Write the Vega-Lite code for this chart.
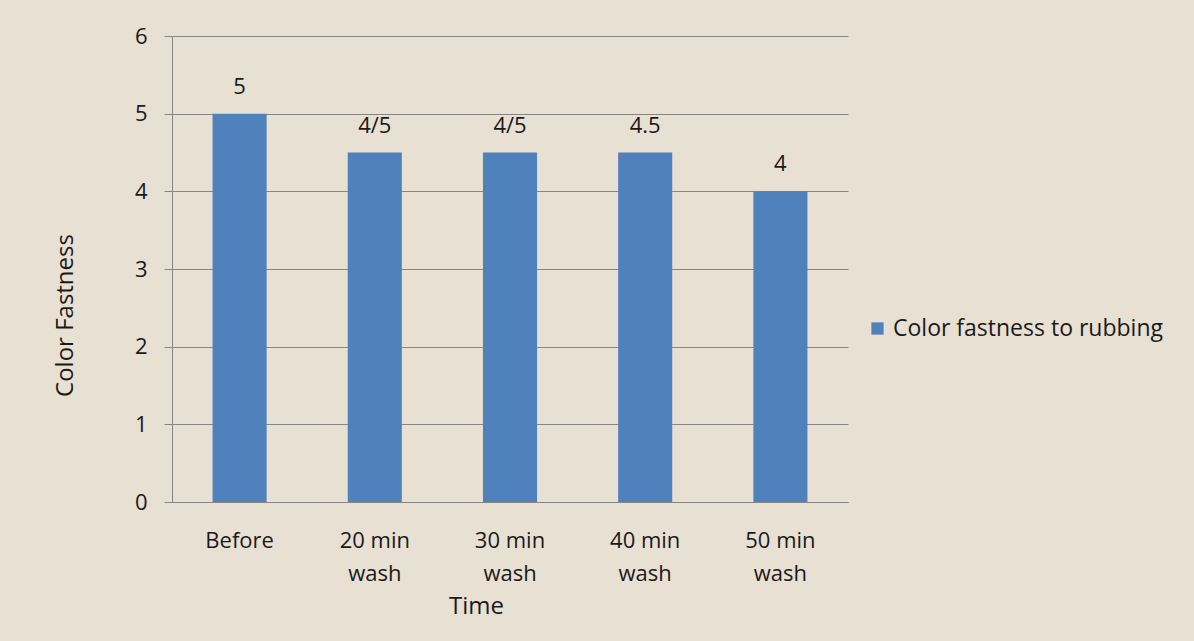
{
  "$schema": "https://vega.github.io/schema/vega-lite/v6.json",
  "width": 676,
  "height": 466,
  "autosize": {"type": "none"},
  "padding": {"left": 172, "top": 36, "right": 346, "bottom": 139},
  "background": "#e8e0d2",
  "config": {
    "font": "Open Sans",
    "view": {"stroke": null},
    "axis": {"labelColor": "#1a1a1a", "titleColor": "#1a1a1a", "domainColor": "#8a8580", "tickColor": "#8a8580", "gridColor": "#8a8580", "gridOpacity": 1}
  },
  "data": {
    "values": [
      {"time": "Before", "value": 5, "label": "5", "series": "Color fastness to rubbing"},
      {"time": "20 min wash", "value": 4.5, "label": "4/5", "series": "Color fastness to rubbing"},
      {"time": "30 min wash", "value": 4.5, "label": "4/5", "series": "Color fastness to rubbing"},
      {"time": "40 min wash", "value": 4.5, "label": "4.5", "series": "Color fastness to rubbing"},
      {"time": "50 min wash", "value": 4, "label": "4", "series": "Color fastness to rubbing"}
    ]
  },
  "layer": [
    {
      "mark": {"type": "bar", "width": {"band": 0.4}},
      "encoding": {
        "x": {
          "field": "time", "type": "nominal", "sort": null,
          "scale": {"paddingInner": 0, "paddingOuter": 0},
          "axis": {
            "title": "Time", "titleFontSize": 24, "titleFontWeight": "normal",
            "titleX": 304, "titleY": 92,
            "labelAngle": 0, "labelFontSize": 22, "labelLineHeight": 33,
            "labelPadding": 28,
            "labelExpr": "indexof(datum.value, ' wash') > 0 ? [replace(datum.value, ' wash', ''), 'wash'] : datum.value",
            "ticks": false, "grid": false
          }
        },
        "y": {
          "field": "value", "type": "quantitative",
          "scale": {"domain": [0, 6]},
          "axis": {
            "title": "Color Fastness", "titleFontSize": 24, "titleFontWeight": "normal",
            "titleX": -95, "titleY": 279,
            "values": [0, 1, 2, 3, 4, 5, 6], "format": "d",
            "labelFontSize": 22, "labelPadding": 17, "tickSize": 8,
            "grid": true
          }
        },
        "color": {
          "field": "series", "type": "nominal",
          "scale": {"range": ["#4f81bd"]},
          "legend": {
            "title": null, "orient": "none", "legendX": 694, "legendY": 281,
            "symbolType": "square", "symbolSize": 150, "labelFontSize": 23,
            "labelColor": "#1a1a1a", "labelLimit": 400
          }
        }
      }
    },
    {
      "mark": {"type": "text", "dy": -27, "fontSize": 22, "color": "#1a1a1a"},
      "encoding": {
        "x": {"field": "time", "type": "nominal", "sort": null},
        "y": {"field": "value", "type": "quantitative"},
        "text": {"field": "label"}
      }
    }
  ]
}
